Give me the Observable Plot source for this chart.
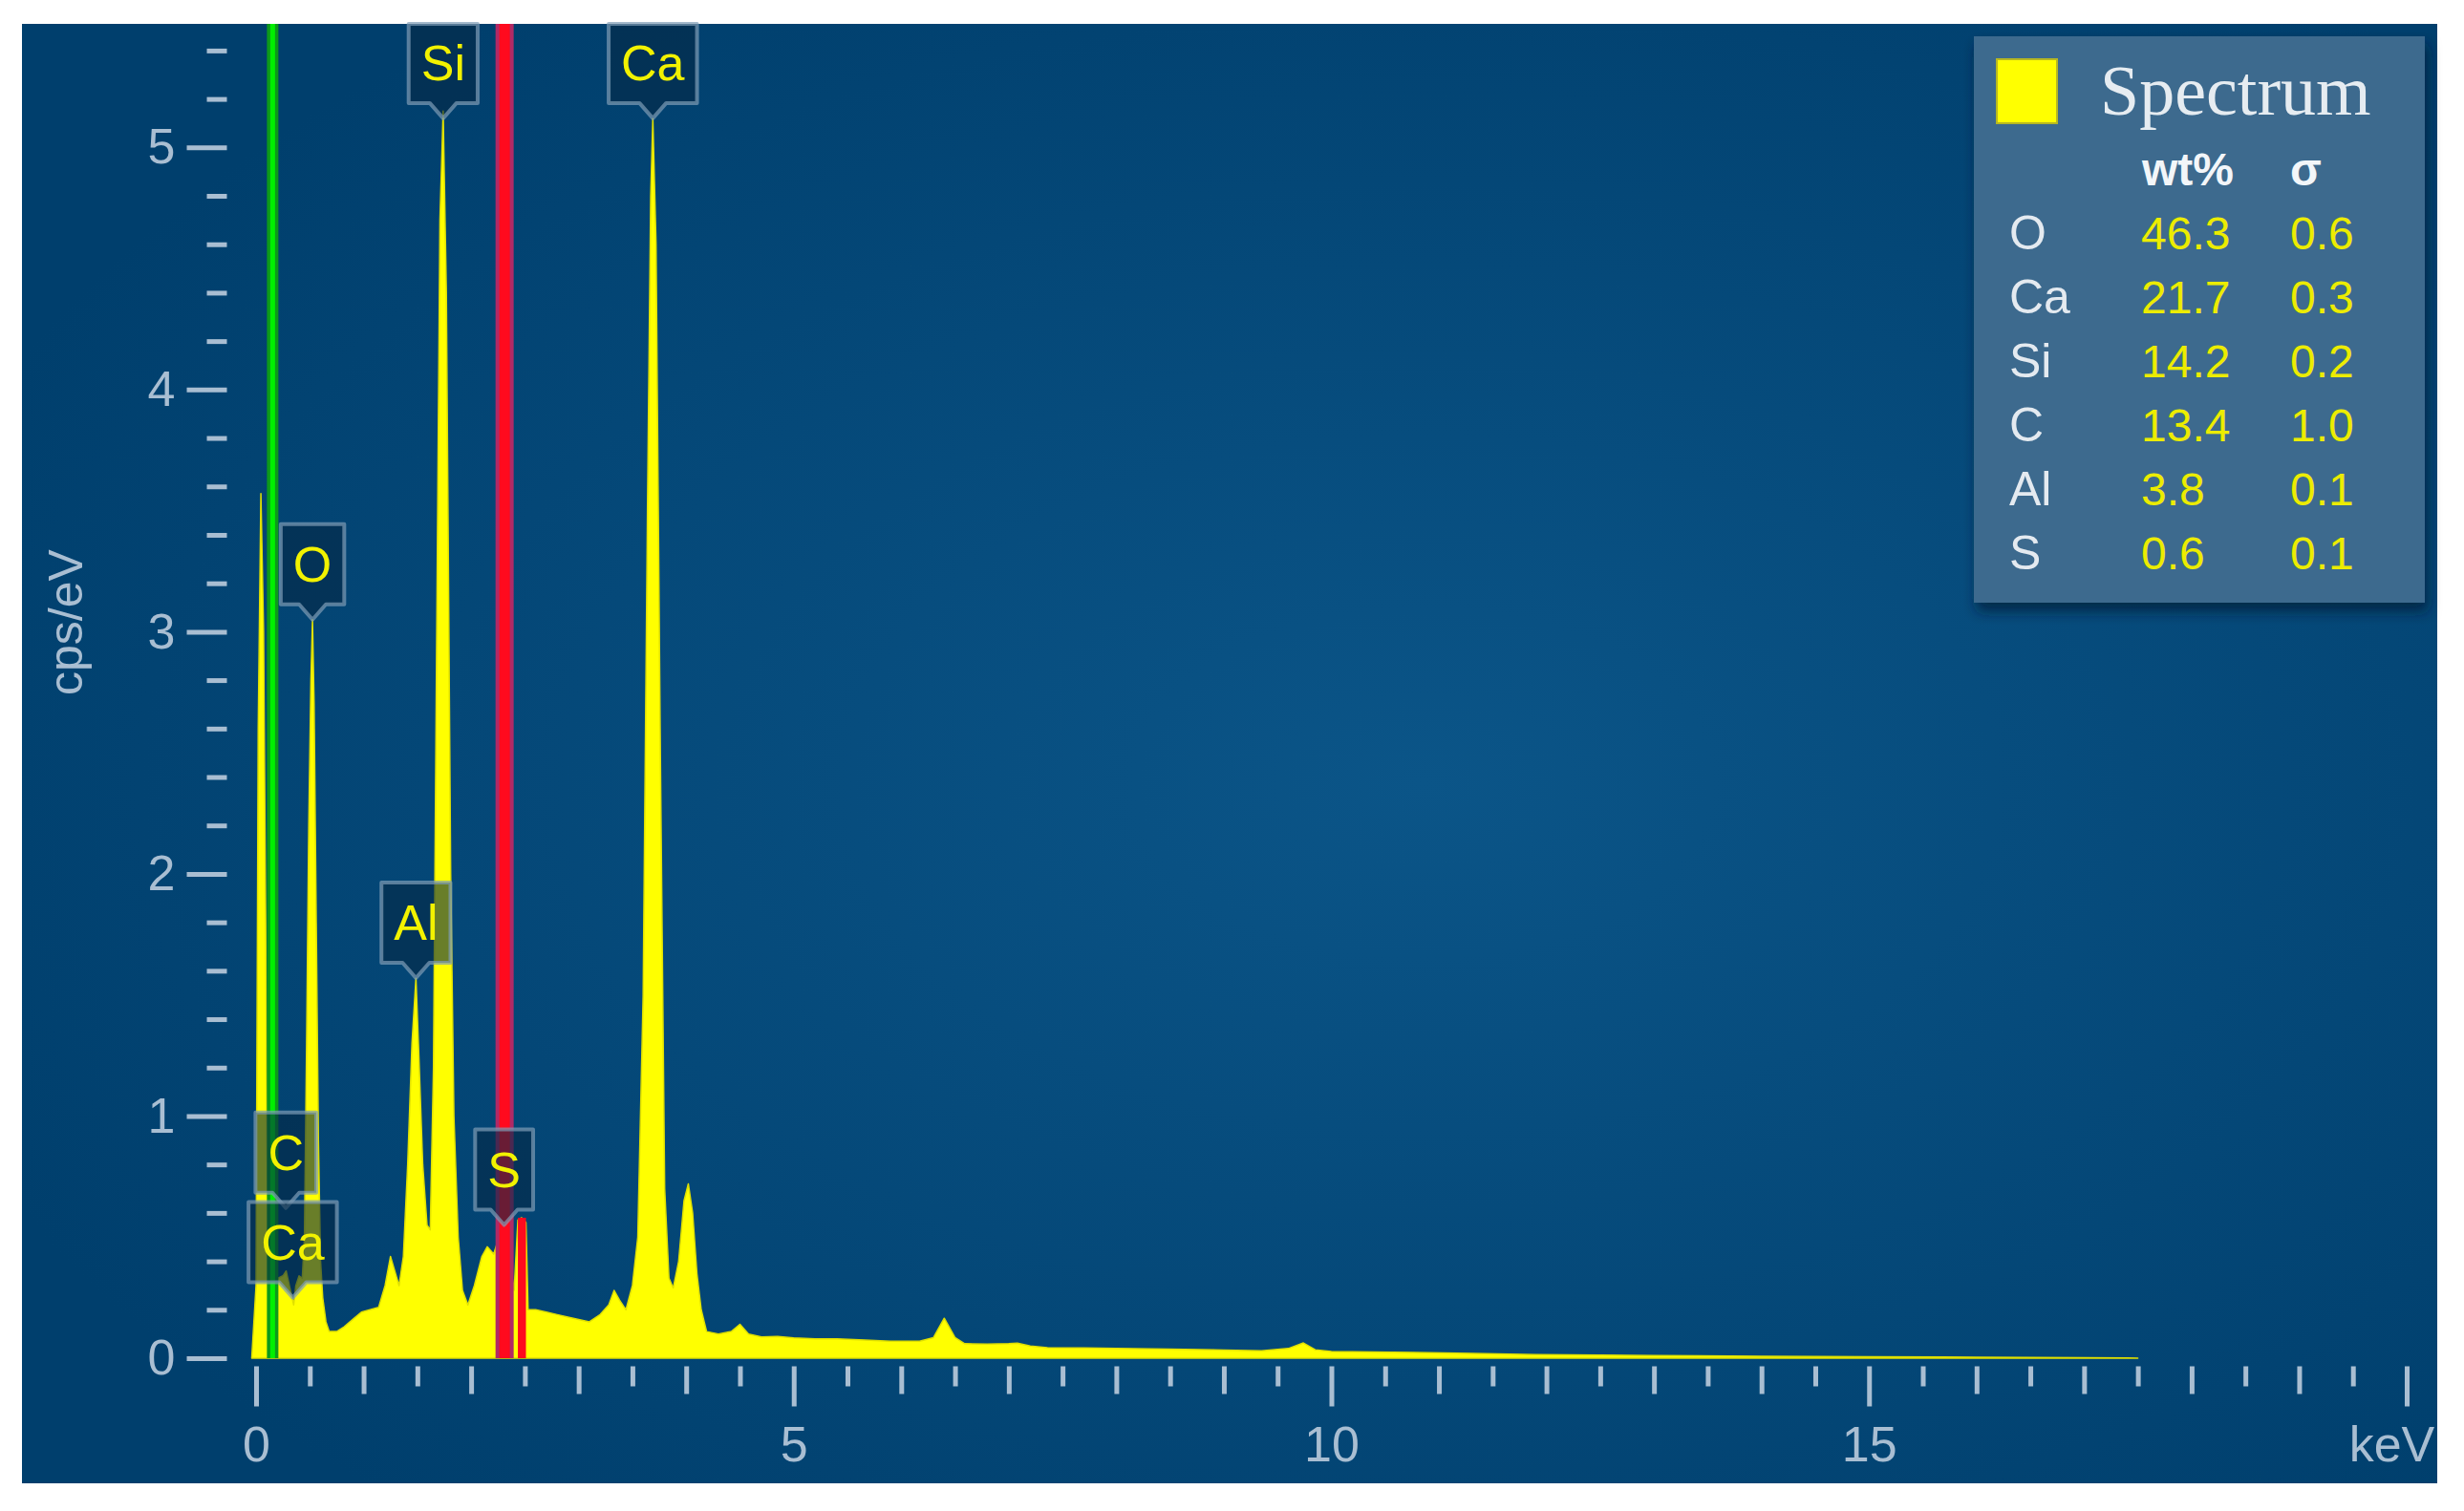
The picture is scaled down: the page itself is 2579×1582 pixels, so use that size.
<!DOCTYPE html>
<html>
<head>
<meta charset="utf-8">
<script src="https://cdn.jsdelivr.net/npm/d3@7"></script>
<script src="https://cdn.jsdelivr.net/npm/@observablehq/plot@0.6"></script>
<style>
  html, body { margin: 0; padding: 0; background: #ffffff; overflow: hidden; }
  #chart svg { display: block; }
</style>
</head>
<body>
<div id="chart"></div>
<script>
// ---------------- DATA ----------------
// EDS spectrum (keV, cps/eV)
const energy = [
  -0.04, 0.00, 0.005, 0.02, 0.045, 0.07, 0.09, 0.10, 0.12, 0.14, 0.20, 0.25, 0.28, 0.31, 0.35, 0.37, 0.40, 0.43,
  0.45, 0.47, 0.49, 0.51, 0.525, 0.54, 0.56, 0.58, 0.60, 0.62, 0.65, 0.68, 0.75, 0.82, 0.90, 0.98, 1.06, 1.14,
  1.20, 1.25, 1.29, 1.33, 1.37, 1.41, 1.45, 1.487, 1.51, 1.55, 1.59, 1.62, 1.65, 1.68, 1.71, 1.74, 1.77, 1.81,
  1.84, 1.88, 1.92, 1.97, 2.03, 2.10, 2.15, 2.21, 2.26, 2.31, 2.36, 2.40, 2.435, 2.47, 2.51, 2.53, 2.60, 2.70,
  2.80, 2.90, 3.00, 3.10, 3.20, 3.28, 3.33, 3.38, 3.44, 3.50, 3.55, 3.60, 3.64, 3.67, 3.69, 3.72, 3.76, 3.80,
  3.84, 3.88, 3.93, 3.98, 4.02, 4.06, 4.10, 4.14, 4.19, 4.30, 4.42, 4.50, 4.58, 4.70, 4.85, 5.00, 5.20, 5.40,
  5.66, 5.90, 6.17, 6.30, 6.40, 6.50, 6.59, 6.80, 7.00, 7.08, 7.20, 7.36, 7.70, 8.00, 8.49, 9.00, 9.35, 9.60,
  9.74, 9.85, 10.0, 10.76, 11.3, 11.9, 12.5, 13.0, 14.0, 15.0, 16.0, 17.0, 17.4, 17.5
];
const cps = [
  0.00, 0.30, 0.90, 2.60, 3.57, 3.00, 1.80, 0.90, 0.42, 0.34, 0.33, 0.34, 0.36, 0.30, 0.22, 0.30, 0.34, 0.33,
  0.50, 1.30, 2.20, 2.80, 3.05, 2.70, 1.80, 0.90, 0.40, 0.25, 0.15, 0.11, 0.11, 0.13, 0.16, 0.19, 0.20, 0.21,
  0.30, 0.42, 0.36, 0.30, 0.42, 0.80, 1.30, 1.57, 1.30, 0.80, 0.55, 0.53, 1.20, 3.00, 4.70, 5.15, 4.40, 2.00,
  1.00, 0.50, 0.28, 0.22, 0.30, 0.42, 0.46, 0.43, 0.50, 0.55, 0.40, 0.28, 0.57, 0.58, 0.56, 0.20, 0.20, 0.19,
  0.18, 0.17, 0.16, 0.15, 0.18, 0.22, 0.28, 0.24, 0.20, 0.30, 0.50, 1.50, 3.50, 4.80, 5.12, 4.60, 2.50, 0.70,
  0.33, 0.29, 0.40, 0.65, 0.72, 0.60, 0.35, 0.20, 0.11, 0.10, 0.11, 0.14, 0.10, 0.088, 0.09, 0.084, 0.08, 0.08,
  0.075, 0.07, 0.07, 0.085, 0.165, 0.085, 0.06, 0.058, 0.06, 0.062, 0.05, 0.043, 0.042, 0.040, 0.037, 0.034, 0.031, 0.040,
  0.063, 0.035, 0.028, 0.024, 0.020, 0.015, 0.013, 0.011, 0.008, 0.006, 0.004, 0.002, 0.001, 0.000
];

// red-coloured S Kβ bin of the spectrum
const sBinX1 = [2.435];
const sBinX2 = [2.51];
const sBinCps = [0.58];

// vertical marker lines
const markerEnergy = [0.15, 2.307];
const markerEdge = ["#0d9a1a", "#b02a66"];
const markerCore = ["#00f000", "#ff0a1e"];

// peak labels
const peakLabel = ["Si", "Ca", "O", "Al", "S", "C", "Ca"];
const peakEnergy = [1.74, 3.69, 0.525, 1.487, 2.307, 0.277, 0.341];
const peakTip = [5.12, 5.12, 3.05, 1.57, 0.55, 0.62, 0.25];

// quantification table (legend)
const legendTitle = "Spectrum";
const legendHeader = ["wt%", "σ"];
const legendElement = ["O", "Ca", "Si", "C", "Al", "S"];
const legendWt = ["46.3", "21.7", "14.2", "13.4", "3.8", "0.6"];
const legendSigma = ["0.6", "0.3", "0.2", "1.0", "0.1", "0.1"];

// axes
const yLabel = "cps/eV";
const yMajorTicks = [0, 1, 2, 3, 4, 5];
const yMinorTicks = [0.2, 0.4, 0.6, 0.8, 1.2, 1.4, 1.6, 1.8, 2.2, 2.4, 2.6, 2.8, 3.2, 3.4, 3.6, 3.8, 4.2, 4.4, 4.6, 4.8, 5.2, 5.4];
const xLongTicks = [0, 5, 10, 15, 20];
const xTickLabels = ["0", "5", "10", "15", "keV"];
const xMediumTicks = [1, 2, 3, 4, 6, 7, 8, 9, 11, 12, 13, 14, 16, 17, 18, 19];
const xShortTicks = [0.5, 1.5, 2.5, 3.5, 4.5, 5.5, 6.5, 7.5, 8.5, 9.5, 10.5, 11.5, 12.5, 13.5, 14.5, 15.5, 16.5, 17.5, 18.5, 19.5];

// ---------------- CHART ----------------
const spectrum = energy.map((e, i) => ({energy: e, cps: cps[i]}));
const sBins = sBinX1.map((x1, i) => ({x1, x2: sBinX2[i], cps: sBinCps[i]}));
const markers = markerEnergy.map((e, i) => ({energy: e, edge: markerEdge[i], core: markerCore[i], idx: i}));
const xLabels = xLongTicks.map((v, i) => ({v, label: xTickLabels[i], last: i === xLongTicks.length - 1}));

const axisColor = "#a9bed2";
const font = "'Liberation Sans', Arial, sans-serif";

// tick-shaped symbols (horizontal to the left, vertical downward)
const hLine = len => ({draw(ctx) { ctx.moveTo(-len, 0); ctx.lineTo(0, 0); }});
const vLine = len => ({draw(ctx) { ctx.moveTo(0, 0); ctx.lineTo(0, len); }});
const tickStyle = {stroke: axisColor, strokeWidth: 5, fill: "none"};

const plot = Plot.plot({
  width: 2579,
  height: 1582,
  marginLeft: 268,
  marginRight: 60,
  marginTop: 25,
  marginBottom: 160,
  x: {domain: [0, 20], axis: null},
  y: {domain: [0, 5.51], axis: null},
  style: {background: "transparent", fontFamily: font, fontSize: "52px", color: axisColor, overflow: "visible"},
  marks: [
    Plot.areaY(spectrum, {x: "energy", y: "cps", fill: "#ffff00", stroke: "#e0e000", strokeWidth: 1.5}),
    Plot.rectY(sBins, {x1: "x1", x2: "x2", y: "cps", fill: "#ff0a1e"}),
    Plot.ruleX(markers, {x: "energy", stroke: "edge", strokeWidth: d => d.idx === 0 ? 12 : 19}),
    Plot.ruleX(markers, {x: "energy", stroke: "core", strokeWidth: d => d.idx === 0 ? 5 : 11}),
    // y axis
    Plot.dot(yMajorTicks, {y: d => d, frameAnchor: "left", dx: -31, symbol: hLine(42), ...tickStyle}),
    Plot.dot(yMinorTicks, {y: d => d, frameAnchor: "left", dx: -31, symbol: hLine(21), ...tickStyle}),
    Plot.text(yMajorTicks, {y: d => d, text: d => String(d), frameAnchor: "left", dx: -85, textAnchor: "end",
      fill: axisColor, fontSize: 52}),
    Plot.text([yLabel], {frameAnchor: "left", rotate: -90, dx: -199, dy: 4, fill: axisColor, fontSize: 50}),
    // x axis
    Plot.dot(xLongTicks, {x: d => d, frameAnchor: "bottom", dy: 8, symbol: vLine(42), ...tickStyle}),
    Plot.dot(xMediumTicks, {x: d => d, frameAnchor: "bottom", dy: 8, symbol: vLine(29), ...tickStyle}),
    Plot.dot(xShortTicks, {x: d => d, frameAnchor: "bottom", dy: 8, symbol: vLine(21), ...tickStyle}),
    Plot.text(xLabels.filter(d => !d.last), {x: "v", text: "label", frameAnchor: "bottom", lineAnchor: "top",
      dy: 71, fill: axisColor, fontSize: 52}),
    Plot.text(xLabels.filter(d => d.last), {x: "v", text: "label", frameAnchor: "bottom", lineAnchor: "top",
      dy: 71, dx: -16, fill: axisColor, fontSize: 52})
  ]
});

document.getElementById("chart").appendChild(plot);

// ---------------- DECORATION (via d3, using Plot's scales) ----------------
const svg = d3.select(plot);
const xs = plot.scale("x").apply;
const ys = plot.scale("y").apply;

const defs = svg.insert("defs", ":first-child");
const grad = defs.append("radialGradient").attr("id", "bg").attr("cx", "58%").attr("cy", "52%").attr("r", "65%");
grad.append("stop").attr("offset", "0%").attr("stop-color", "#0b5588");
grad.append("stop").attr("offset", "100%").attr("stop-color", "#003f6d");
const shadow = defs.append("filter").attr("id", "shadow").attr("x", "-10%").attr("y", "-10%").attr("width", "130%").attr("height", "130%");
shadow.append("feDropShadow").attr("dx", 3).attr("dy", 9).attr("stdDeviation", 7)
  .attr("flood-color", "#001a30").attr("flood-opacity", 0.7);

// blue panel behind everything
svg.insert("rect", "defs + *")
  .attr("x", 23).attr("y", 25).attr("width", 2528).attr("height", 1528)
  .attr("fill", "url(#bg)");

// peak labels (box with pointer, tip at peak)
const measure = document.createElement("canvas").getContext("2d");
measure.font = "52px 'Liberation Sans', Arial, sans-serif";
const gLab = svg.append("g").attr("text-anchor", "middle");
peakLabel.forEach((lab, i) => {
  const x = xs(peakEnergy[i]);
  const tip = ys(peakTip[i]);
  const bot = tip - 16;
  const top = Math.max(bot - 84, 25);
  const w = measure.measureText(lab).width + 26;
  const path = `M${x - w / 2},${top} L${x + w / 2},${top} L${x + w / 2},${bot} L${x + 14},${bot} L${x},${tip} L${x - 14},${bot} L${x - w / 2},${bot} Z`;
  gLab.append("path").attr("d", path)
    .attr("fill", "#052845").attr("fill-opacity", 0.6)
    .attr("stroke", "#7f9db7").attr("stroke-opacity", 0.7).attr("stroke-width", 4).attr("stroke-linejoin", "round");
  gLab.append("text").attr("x", x).attr("y", (top + bot) / 2 + 18)
    .attr("font-family", font).attr("font-size", 52)
    .attr("fill", "#f2f200").text(lab);
});

// legend / quantification table
const gLeg = svg.append("g").attr("text-anchor", "start").style("text-anchor", "start");
gLeg.append("rect").attr("x", 2066).attr("y", 38).attr("width", 472).attr("height", 593)
  .attr("fill", "#3d6a8e").attr("filter", "url(#shadow)");
gLeg.append("rect").attr("x", 2090).attr("y", 62).attr("width", 63).attr("height", 67)
  .attr("fill", "#ffff00").attr("stroke", "#b8b820").attr("stroke-width", 2);
const addText = (x, y, txt, size, fill, extra = {}) => {
  const t = gLeg.append("text").attr("x", x).attr("y", y).attr("text-anchor", "start")
    .attr("font-family", extra.family || font).attr("font-size", size).attr("fill", fill).text(txt);
  if (extra.bold) t.attr("font-weight", "bold");
  return t;
};
addText(2198, 120, legendTitle, 74, "#e6ecf1", {family: "'Liberation Serif', 'Times New Roman', serif"});
addText(2242, 194, legendHeader[0], 48, "#f3f6f9", {bold: true});
addText(2397, 194, legendHeader[1], 48, "#f3f6f9", {bold: true});
legendElement.forEach((el, i) => {
  const y = 261 + 67 * i;
  addText(2103, y, el, 50, "#e4eaf0");
  addText(2241, y, legendWt[i], 48, "#ecec00");
  addText(2397, y, legendSigma[i], 48, "#ecec00");
});
</script>
</body>
</html>
